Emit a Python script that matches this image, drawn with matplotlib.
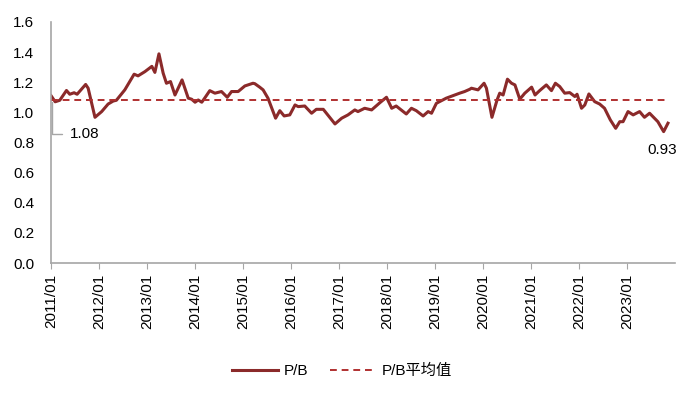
import matplotlib
matplotlib.use("Agg")
import matplotlib.pyplot as plt
import pandas as pd

plt.rcParams['font.family'] = ['Liberation Sans', 'Noto Sans CJK SC', 'DejaVu Sans']

# P/B series
dates = [
    '2011-01-01', '2011-02-01', '2011-03-08', '2011-04-28', '2011-05-23', '2011-06-25',
    '2011-07-18', '2011-09-21', '2011-10-10', '2011-12-01', '2012-01-21', '2012-03-10',
    '2012-04-18', '2012-05-12', '2012-07-15', '2012-09-24', '2012-10-24', '2012-12-15',
    '2013-02-06', '2013-03-01', '2013-04-01', '2013-05-03', '2013-05-28', '2013-06-28',
    '2013-08-01', '2013-09-24', '2013-11-10', '2013-12-06', '2014-01-01', '2014-01-25',
    '2014-02-21', '2014-03-15', '2014-04-23', '2014-06-01', '2014-07-21', '2014-09-03',
    '2014-10-06', '2014-11-25', '2015-01-15', '2015-03-18', '2015-04-01', '2015-05-08',
    '2015-06-03', '2015-07-10', '2015-09-06', '2015-10-08', '2015-11-10', '2015-12-23',
    '2016-02-01', '2016-02-25', '2016-04-15', '2016-06-06', '2016-07-12', '2016-09-03',
    '2016-12-01', '2017-01-21', '2017-03-10', '2017-05-01', '2017-05-25', '2017-07-15',
    '2017-09-06', '2017-11-08', '2017-12-28', '2018-02-06', '2018-03-12', '2018-05-28',
    '2018-07-06', '2018-08-12', '2018-10-03', '2018-11-10', '2018-12-06', '2019-01-12',
    '2019-03-28', '2019-06-01', '2019-07-08', '2019-08-15', '2019-09-23', '2019-10-06',
    '2019-11-25', '2020-01-10', '2020-01-28', '2020-03-10', '2020-04-18', '2020-05-08',
    '2020-06-03', '2020-07-06', '2020-08-06', '2020-09-01', '2020-10-08', '2020-11-15',
    '2021-01-06', '2021-02-01', '2021-03-08', '2021-04-28', '2021-06-06', '2021-07-06',
    '2021-08-08', '2021-09-15', '2021-10-23', '2021-12-01', '2021-12-18', '2022-01-21',
    '2022-02-15', '2022-03-18', '2022-05-01', '2022-06-08', '2022-07-15', '2022-08-28',
    '2022-10-08', '2022-11-08', '2022-12-03', '2023-01-10', '2023-02-18', '2023-04-08',
    '2023-05-15', '2023-06-23', '2023-08-25', '2023-10-08', '2023-11-10',
]
pb = [
    1.11, 1.07, 1.08, 1.145, 1.12, 1.13,
    1.12, 1.185, 1.16, 0.967, 1.005, 1.055,
    1.075, 1.08, 1.149, 1.253, 1.242, 1.27,
    1.305, 1.265, 1.388, 1.26, 1.193, 1.204,
    1.115, 1.215, 1.094, 1.087, 1.067, 1.082,
    1.067, 1.094, 1.144, 1.127, 1.138, 1.10,
    1.138, 1.138, 1.175, 1.193, 1.19, 1.167,
    1.149, 1.094, 0.961, 1.011, 0.976, 0.983,
    1.049, 1.038, 1.042, 0.994, 1.02, 1.02,
    0.923, 0.961, 0.983, 1.016, 1.005, 1.027,
    1.016, 1.064, 1.10, 1.027, 1.042, 0.989,
    1.027, 1.011, 0.976, 1.005, 0.994, 1.06,
    1.094, 1.115, 1.127, 1.138, 1.153, 1.16,
    1.149, 1.193, 1.16, 0.967, 1.082, 1.127,
    1.115, 1.22, 1.193, 1.182, 1.087, 1.127,
    1.167, 1.115, 1.144, 1.182, 1.144, 1.193,
    1.171, 1.127, 1.131, 1.105, 1.12, 1.027,
    1.049, 1.122, 1.071, 1.055, 1.027, 0.95,
    0.894, 0.938, 0.938, 1.005, 0.983, 1.005,
    0.967, 0.994, 0.938, 0.872, 0.928,
]
pb_mean = 1.08
last_label = 0.93
tick_years = list(range(2011, 2024))

x = pd.to_datetime(dates)

fig = plt.figure(figsize=(7, 3.98), dpi=100)
ax = fig.add_axes([0.073, 0.339, 0.891, 0.606])

line_color = '#8B2A2A'
mean_color = '#B03030'

ax.plot(x, pb, color=line_color, linewidth=2.2, label='P/B')
ax.plot([x[0], x[-1]], [pb_mean, pb_mean], color=mean_color, linewidth=1.4,
        linestyle=(0, (3.5, 2.5)), label='P/B平均值')

ax.set_ylim(0, 1.6)
ax.set_yticks([0.0, 0.2, 0.4, 0.6, 0.8, 1.0, 1.2, 1.4, 1.6])
ax.set_yticklabels([f'{v:.1f}' for v in ax.get_yticks()])
ax.set_xlim(pd.Timestamp('2011-01-01'), pd.Timestamp('2024-01-01'))
ticks = [pd.Timestamp(f'{y}-01-01') for y in tick_years]
ax.set_xticks(ticks)
ax.set_xticklabels([f'{y}/01' for y in tick_years], rotation=90)

for s in ['top', 'right']:
    ax.spines[s].set_visible(False)
for s in ['left', 'bottom']:
    ax.spines[s].set_color('#A6A6A6')
    ax.spines[s].set_linewidth(1.2)
ax.tick_params(axis='y', length=0, labelsize=11, pad=12)
ax.tick_params(axis='x', length=4, color='#A6A6A6', labelsize=11, pad=4)

# mean value callout with elbow leader line
ax.annotate(f'{pb_mean:.2f}', xy=(pd.Timestamp('2011-01-10'), pb_mean - 0.01),
            xytext=(13, -23), textcoords='offset points', fontsize=11,
            va='center', ha='left',
            arrowprops=dict(arrowstyle='-', color='#A6A6A6', lw=1,
                            shrinkA=4, shrinkB=0,
                            connectionstyle='angle,angleA=0,angleB=90,rad=0'))
# latest value
ax.annotate(f'{last_label:.2f}', xy=(x[-1], pb[-1]), xytext=(-4, -19),
            textcoords='offset points', fontsize=11, ha='center', va='center')

fig.legend(loc='center', bbox_to_anchor=(0.489, 0.068), ncol=2, frameon=False,
           fontsize=11, handlelength=3.0, handletextpad=0.4, columnspacing=1.4)

fig.savefig('out.png', dpi=100)
